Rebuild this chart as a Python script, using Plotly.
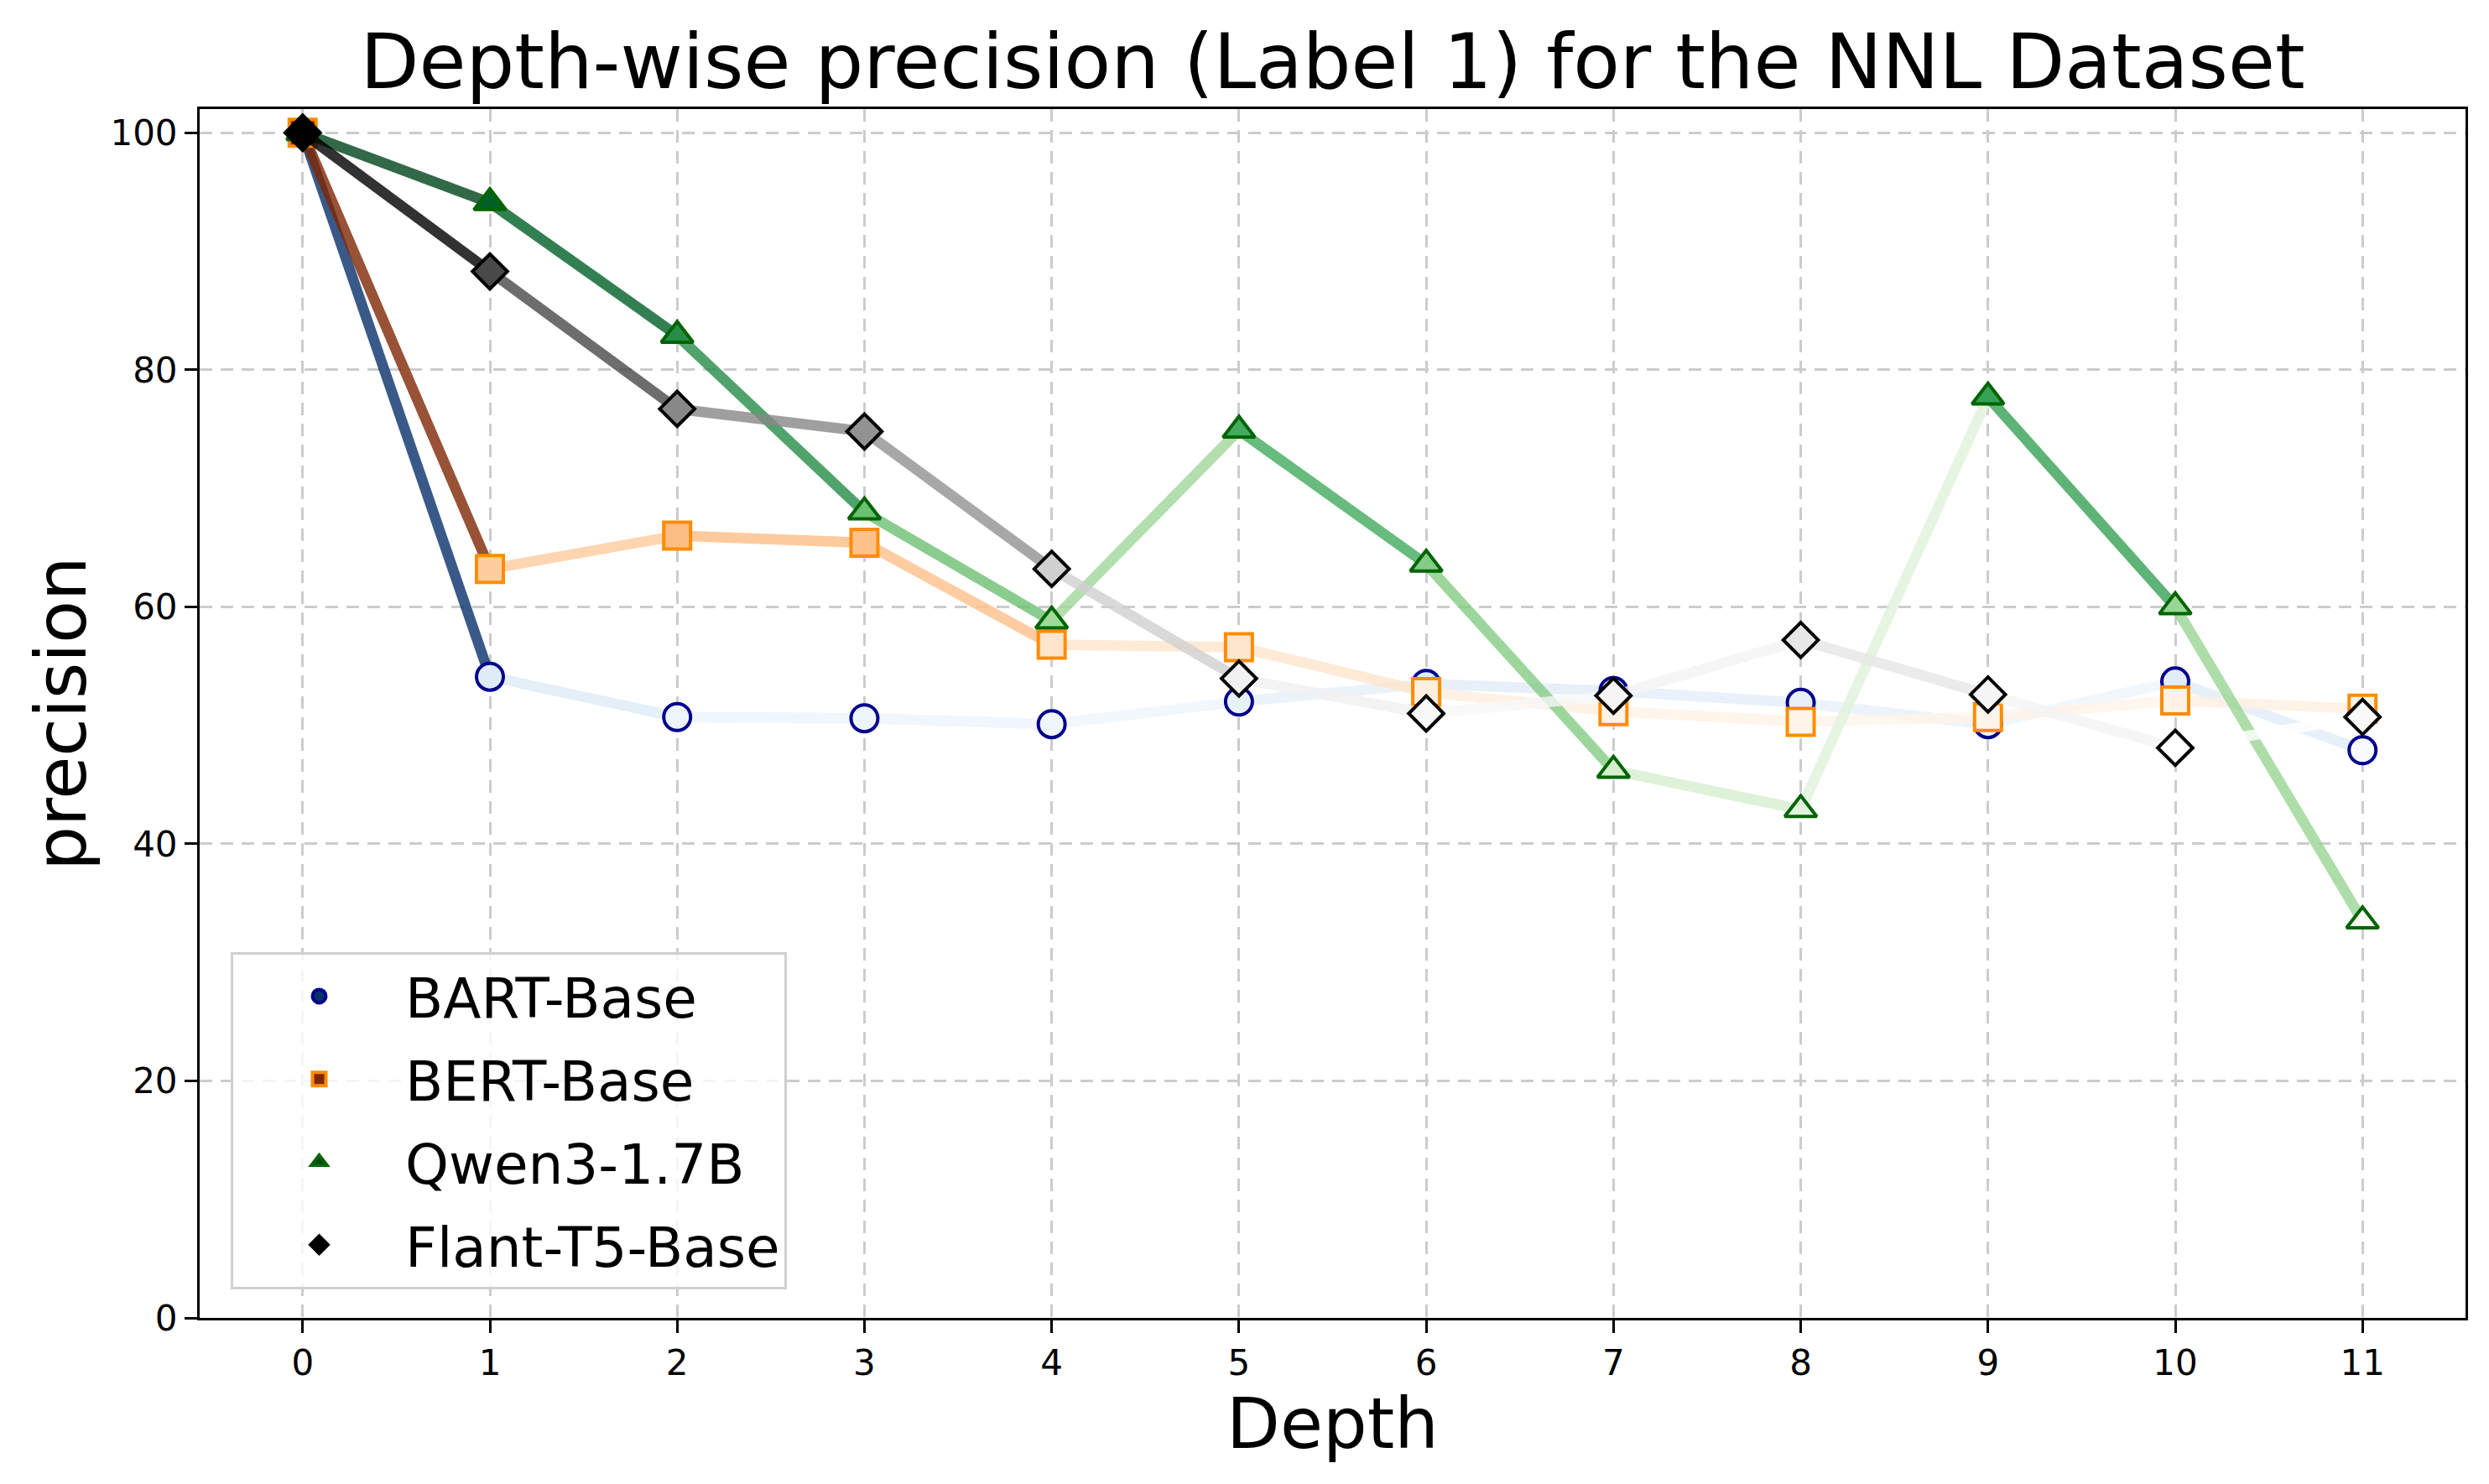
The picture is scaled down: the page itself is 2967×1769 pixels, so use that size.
import plotly.graph_objects as go
import plotly.colors as pc

depth = list(range(12))
bart = [100, 54.1, 50.7, 50.6, 50.1, 52.0, 53.5, 52.9, 51.9, 50.1, 53.7, 47.9]
bert = [100, 63.2, 66.0, 65.4, 56.8, 56.6, 52.8, 51.2, 50.3, 50.7, 52.1, 51.4]
qwen = [100, 94.1, 82.9, 68.0, 58.8, 74.9, 63.6, 46.2, 42.9, 77.7, 60.0, 33.5]
flan = [100, 88.3, 76.7, 74.8, 63.2, 53.95, 51.0, 52.5, 57.2, 52.6, 48.1, 50.7]

series = [
    ("BART-Base", bart, pc.sequential.Blues, "circle", "#00008b"),
    ("BERT-Base", bert, pc.sequential.Oranges, "square", "#ff8c00"),
    ("Qwen3-1.7B", qwen, pc.sequential.Greens, "triangle-up", "#006400"),
    ("Flant-T5-Base", flan, pc.sequential.Greys, "diamond", "#000000"),
]

fig = go.Figure()
for name, vals, cmap, sym, edge in series:
    vmin, vmax = min(vals), max(vals)
    scale = pc.make_colorscale(cmap)
    for i in range(len(depth) - 1):
        t = (vals[i] - vmin) / (vmax - vmin)
        col = pc.sample_colorscale(scale, [t])[0]
        fig.add_trace(go.Scatter(
            x=depth[i:i + 2], y=vals[i:i + 2], mode="lines",
            line=dict(color=col, width=12.5), opacity=0.8,
            showlegend=False, hoverinfo="skip"))
    msize = 33 if sym == "triangle-up" else 32
    fig.add_trace(go.Scatter(
        x=depth, y=vals, mode="markers", showlegend=False,
        marker=dict(symbol=sym, size=msize, color=vals, colorscale=scale,
                    cmin=vmin, cmax=vmax, line=dict(color=edge, width=4))))

for name, vals, cmap, sym, edge in series:
    fig.add_trace(go.Scatter(
        x=[None], y=[None], mode="markers", name=name, legendgroup=name,
        marker=dict(symbol=sym, size=32, color=cmap[-1],
                    line=dict(color=edge, width=4))))

axis_common = dict(
    showline=True, linecolor="black", linewidth=3, mirror=True,
    ticks="outside", ticklen=15, tickwidth=3, tickcolor="black",
    showgrid=True, gridcolor="#cccccc", gridwidth=3, griddash="15px,10px",
    zeroline=False, tickfont=dict(size=42, color="black"),
)

fig.update_layout(
    width=2967, height=1769,
    paper_bgcolor="white", plot_bgcolor="white",
    font=dict(family="DejaVu Sans", color="black"),
    margin=dict(l=230, r=36, t=122, b=206),
    title=dict(text="Depth-wise precision (Label 1) for the NNL Dataset",
               x=0.5, xanchor="center", xref="paper",
               y=0.963, yanchor="middle", font=dict(size=91, color="black")),
    xaxis=dict(range=[-0.55, 11.55], tickmode="array", tickvals=depth,
               ticktext=[str(d) for d in depth],
               title=dict(text="Depth", font=dict(size=83), standoff=10),
               **axis_common),
    yaxis=dict(range=[0, 102], tickmode="array", tickvals=[0, 20, 40, 60, 80, 100],
               title=dict(text="precision", font=dict(size=83), standoff=2),
               **axis_common),
    legend=dict(x=0.0137, y=0.0236, xanchor="left", yanchor="bottom",
                bgcolor="rgba(255,255,255,0.8)", bordercolor="#d0d0d0",
                borderwidth=3, font=dict(size=66, color="black"),
                itemwidth=195, tracegroupgap=10, traceorder="grouped"),
)

fig.write_html("out.html")
